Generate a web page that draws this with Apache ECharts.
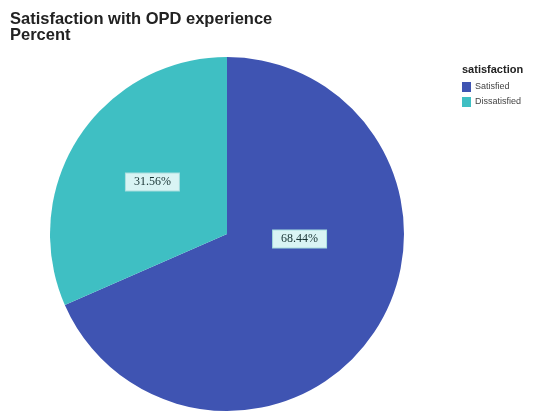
<!DOCTYPE html>
<html>
<head>
<meta charset="utf-8">
<script src="https://cdn.jsdelivr.net/npm/echarts@6/dist/echarts.min.js"></script>
<style>
  html, body { margin: 0; padding: 0; background: #fff; }
  #main { width: 549px; height: 411px; }
</style>
</head>
<body>
<div id="main"></div>
<script>
const categories = ['Satisfied', 'Dissatisfied'];
const percents = [68.44, 31.56];
const colors = ['#3f54b2', '#3fbfc3'];

const myChart = echarts.init(document.getElementById('main'));

// SPSS puts the big slice label nearer the centre than the mid angle
const labelOffsets = [[-4, -45], [2, -2]];

const pieData = categories.map(function (name, i) {
  return {
    name: name,
    value: percents[i],
    itemStyle: { color: colors[i] },
    label: { offset: labelOffsets[i] }
  };
});

const option = {
  animation: false,
  title: [
    {
      text: 'Satisfaction with OPD experience\nPercent',
      left: 10,
      top: 11,
      padding: 0,
      textStyle: {
        fontFamily: 'Liberation Sans',
        fontSize: 16.5,
        fontWeight: 'bold',
        color: '#222',
        lineHeight: 16
      }
    },
    {
      text: 'satisfaction',
      left: 462,
      top: 64,
      padding: 0,
      textStyle: {
        fontFamily: 'Liberation Sans',
        fontSize: 11,
        fontWeight: 'bold',
        color: '#222'
      }
    }
  ],
  legend: {
    orient: 'vertical',
    left: 462,
    top: 82,
    padding: 0,
    itemWidth: 9,
    itemHeight: 10,
    itemGap: 5,
    icon: 'rect',
    data: categories,
    textStyle: {
      fontFamily: 'Liberation Sans',
      fontSize: 9,
      color: '#444',
      padding: [0, 0, 0, -1]
    }
  },
  series: [
    {
      type: 'pie',
      center: [227, 234],
      radius: [0, 177],
      startAngle: 90,
      clockwise: true,
      label: {
        show: true,
        position: 'inside',
        formatter: function (p) {
          return p.value.toFixed(2) + '%';
        },
        fontFamily: 'Liberation Serif',
        fontSize: 12,
        color: '#163232',
        backgroundColor: '#d9f4f4',
        borderColor: '#a8dede',
        borderWidth: 1,
        padding: [3, 8, 2, 8]
      },
      labelLine: { show: false },
      itemStyle: { borderWidth: 0 },
      emphasis: { disabled: true },
      data: pieData
    }
  ]
};

myChart.setOption(option);
</script>
</body>
</html>
